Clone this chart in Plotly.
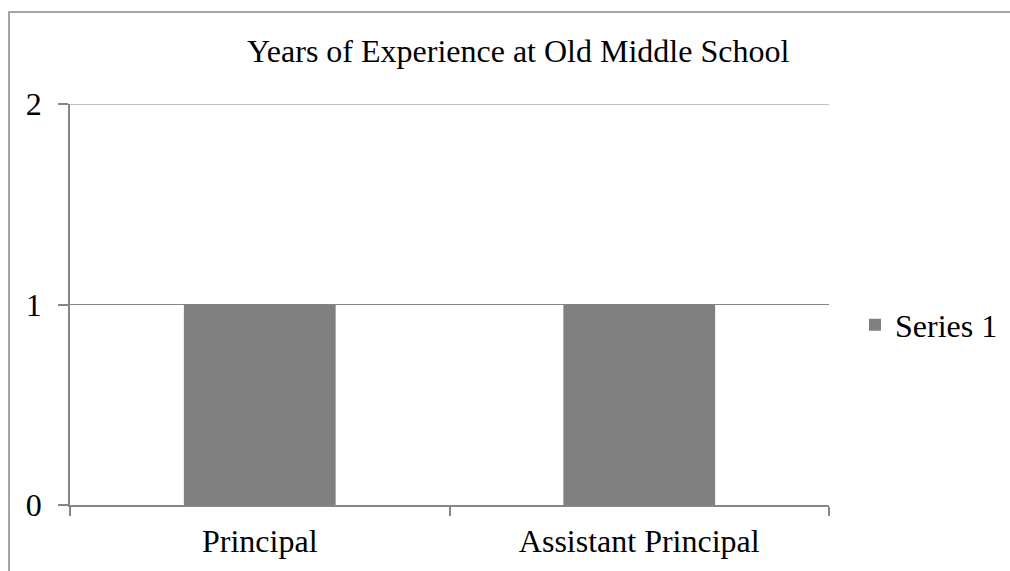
import plotly.graph_objects as go

# Chart data
categories = ["Principal", "Assistant Principal"]
series_name = "Series 1"
years = [1, 1]
y_ticks = [0, 1, 2]

FONT = "Liberation Serif, Times New Roman, serif"
FS = 32
GRAY = "#868686"
BAR = "#808080"

fig = go.Figure()
fig.add_trace(go.Bar(
    x=categories,
    y=years,
    name=series_name,
    marker=dict(color=BAR, line=dict(width=0)),
))

W, H = 1010, 571
L, R, T, B = 70, 181, 104, 66
pw, ph = W - L - R, H - T - B

def px_x(p):
    return (p - L) / pw

def px_y(p):
    return (H - B - p) / ph

fig.update_layout(
    width=W,
    height=H,
    margin=dict(l=L, r=R, t=T, b=B, autoexpand=False),
    paper_bgcolor="white",
    plot_bgcolor="white",
    font=dict(family=FONT, size=FS, color="black"),
    bargap=0.6,
    showlegend=True,
    title=dict(
        text="Years of Experience at Old Middle School",
        x=0.513,
        xanchor="center",
        xref="container",
        y=1 - 51 / H,
        yanchor="middle",
        yref="container",
        font=dict(family=FONT, size=FS, color="black"),
    ),
    legend=dict(
        x=px_x(855),
        xanchor="left",
        y=px_y(325),
        yanchor="middle",
        bgcolor="rgba(0,0,0,0)",
        borderwidth=0,
        font=dict(family=FONT, size=FS, color="black"),
    ),
    xaxis=dict(
        showgrid=False,
        showline=True,
        linecolor=GRAY,
        linewidth=1.5,
        ticks="outside",
        tickson="boundaries",
        ticklen=9,
        tickcolor=GRAY,
        tickwidth=1.5,
        ticklabelstandoff=7,
    ),
    yaxis=dict(
        range=[0, 2],
        tickvals=y_ticks,
        showgrid=True,
        gridcolor=GRAY,
        gridwidth=1.2,
        showline=True,
        linecolor=GRAY,
        linewidth=1.5,
        ticks="outside",
        ticklen=10,
        tickcolor=GRAY,
        tickwidth=1.5,
        ticklabelstandoff=10,
        zeroline=False,
        fixedrange=True,
    ),
    shapes=[
        # gridline at the top of the value axis
        dict(
            type="line",
            xref="paper",
            yref="y",
            x0=0,
            x1=1,
            y0=y_ticks[-1],
            y1=y_ticks[-1],
            line=dict(color=GRAY, width=1.2),
            layer="below",
        ),
        # outer chart-area border
        dict(
            type="rect",
            xref="paper",
            yref="paper",
            x0=px_x(9),
            x1=px_x(1015),
            y0=px_y(580),
            y1=px_y(12),
            line=dict(color=GRAY, width=1.5),
            fillcolor="rgba(0,0,0,0)",
            layer="below",
        ),
    ],
)

fig.write_html("out.html")
